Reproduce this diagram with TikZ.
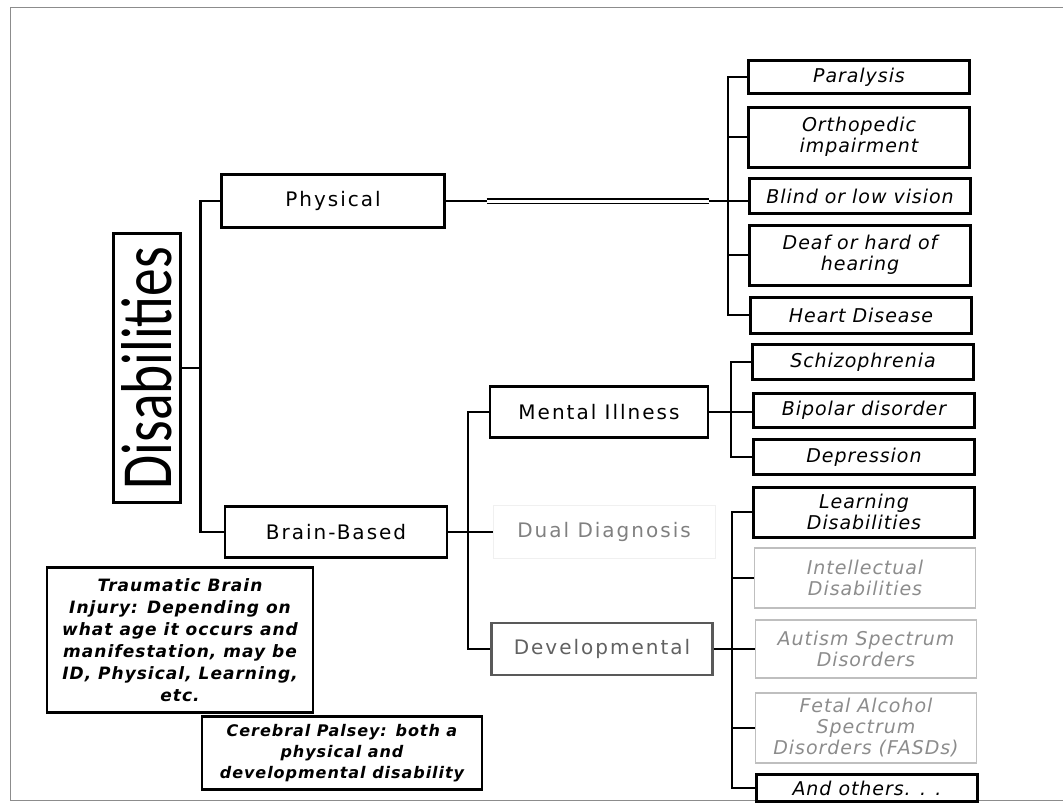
\documentclass[tikz,border=0pt]{standalone}
\usepackage{fontspec}
\setmainfont{DejaVu Sans}
\newfontfamily\catfont[LetterSpace=10]{DejaVu Sans}
\newfontfamily\typefont[LetterSpace=5]{DejaVu Sans}
\newfontfamily\notefont[LetterSpace=6]{DejaVu Sans}
\newfontfamily\titlefont{Carlito}
\usepackage{tikz}

\tikzset{
	catbox/.style={draw, line width=2.2pt, inner sep=0pt, font=\catfont\fontsize{20}{24}\selectfont},
	typebox/.style={draw, line width=3pt, inner sep=0pt, minimum width=221pt, align=center, font=\typefont\itshape\fontsize{19}{21}\selectfont},
	faintbox/.style={typebox, draw=black!25, line width=1.6pt, text=black!45},
	notebox/.style={draw, line width=2.2pt, inner sep=0pt, align=center, font=\notefont\bfseries\itshape\fontsize{17}{22}\selectfont},
	link/.style={line width=2.2pt},
	hollow/.style={double, double distance=3pt, line width=1.3pt}
}

\begin{document}
\begin{tikzpicture}[x=1pt, y=-1pt]
		\useasboundingbox (0,0) rectangle (1063,808);
		\draw[black!45, line width=1pt] (1063,8) -- (10,8) -- (10,800) -- (1063,800);

		\node[draw, line width=2.2pt, inner sep=0pt, rotate=90, minimum width=269pt, minimum height=67pt, font=\titlefont] (dis) at (147,368) {\scalebox{0.77}[1]{\fontsize{72}{72}\selectfont Disabilities}};

		\node[catbox, minimum width=223pt, minimum height=53pt] (phys) at (333,201) {Physical};
		\node[catbox, minimum width=222pt, minimum height=51pt] (brain) at (336,532) {Brain-Based};
		\node[catbox, minimum width=218pt, minimum height=51pt] (mental) at (599,412) {Mental Illness};
		\node[catbox, draw=black!6, line width=1pt, text=black!50, minimum width=222pt, minimum height=53pt] (dual) at (604,532) {Dual Diagnosis};
		\node[catbox, draw=black!65, text=black!62, minimum width=221pt, minimum height=52pt] (dev) at (602,649) {Developmental};

		\node[typebox, minimum height=32pt] (para) at (859,77) {Paralysis};
		\node[typebox, minimum height=60pt] (ortho) at (859,137) {Orthopedic\\impairment};
		\node[typebox, minimum height=35pt] (blind) at (860,196) {Blind or low vision};
		\node[typebox, minimum height=60pt] (deaf) at (860,255) {Deaf or hard of\\hearing};
		\node[typebox, minimum height=36pt] (heart) at (861,315) {Heart Disease};

		\node[typebox, minimum height=35pt] (schiz) at (863,362) {Schizophrenia};
		\node[typebox, minimum height=34pt] (bipol) at (864,410) {Bipolar disorder};
		\node[typebox, minimum height=35pt] (depr) at (864,457) {Depression};

		\node[typebox, minimum height=50pt] (learn) at (864,512) {Learning\\Disabilities};
		\node[faintbox, minimum height=60pt] (intel) at (865,578) {Intellectual\\Disabilities};
		\node[faintbox, minimum height=58pt] (autism) at (866,649) {Autism Spectrum\\Disorders};
		\node[faintbox, minimum height=70pt] (fetal) at (866,728) {Fetal Alcohol\\Spectrum\\Disorders (FASDs)};
		\node[typebox, minimum height=27pt] (others) at (867,788) {And others. . .};

		\node[notebox, minimum width=266pt, minimum height=145pt] (tbi) at (180,640) {Traumatic Brain\\Injury: Depending on\\what age it occurs and\\manifestation, may be\\ID, Physical, Learning,\\etc.};
		\node[notebox, minimum width=280pt, minimum height=73pt, font=\notefont\bfseries\itshape\fontsize{16}{21}\selectfont] (cp) at (342,753) {Cerebral Palsey: both a\\physical and\\developmental disability};

		\draw[link] (phys.west) -- ++(-20,0) coordinate (dj) |- (brain.west);
		\draw[link] (dis.south) -- (dis.south -| dj);

		\draw[link] (phys.east) -- ++(41,0) coordinate (h1);
		\draw[hollow] (h1) -- ++(222,0) coordinate (h2);
		\draw[link] (h2) -- (h2 -| blind.west);
		\draw[link] (para.west) -- ++(-19,0) coordinate (pj) |- (heart.west);
		\foreach \n in {ortho,deaf}
			\draw[link] (\n.west) -- (\n.west -| pj);

		\draw[link] (mental.west) -- ++(-21,0) |- (dev.west);
		\draw[link] (brain.east) -- (dual.west);

		\draw[link] (schiz.west) -- ++(-20,0) |- (depr.west);
		\draw[link] (mental.east) -- (mental.east -| bipol.west);

		\draw[link] (learn.west) -- ++(-20,0) coordinate (lj) |- (others.west);
		\draw[link] (dev.east) -- (dev.east -| autism.west);
		\foreach \n in {intel,autism,fetal}
			\draw[link] (\n.west) -- (\n.west -| lj);
	\end{tikzpicture}
\end{document}
